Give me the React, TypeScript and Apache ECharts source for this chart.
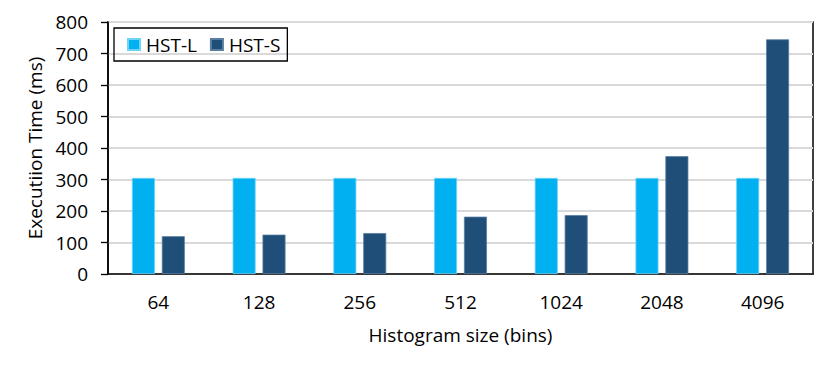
import React, { useEffect, useRef } from "react";
import * as echarts from "echarts";

const categories = ["64", "128", "256", "512", "1024", "2048", "4096"];
const hstL = [305, 305, 305, 305, 305, 305, 305];
const hstS = [120, 125, 130, 182, 187, 374, 745];
const seriesNames = ["HST-L", "HST-S"];

const FONT = "Open Sans";

export default function App() {
  const ref = useRef<HTMLDivElement>(null);
  useEffect(() => {
    if (!ref.current) return;
    const chart = echarts.init(ref.current, undefined, { renderer: "svg" });
    chart.setOption({
      animation: false,
      backgroundColor: "#ffffff",
      textStyle: { fontFamily: FONT },
      grid: {
        left: 100,
        top: 14,
        right: 25,
        bottom: 104,
        show: true,
        borderColor: "#000000",
        borderWidth: 1.5,
        containLabel: false,
      },
      legend: {
        left: 106,
        top: 20,
        padding: [7, 7, 7, 13],
        borderColor: "#000000",
        borderWidth: 1.3,
        itemWidth: 12,
        itemHeight: 11,
        itemGap: 13,
        icon: "rect",
        textStyle: { fontFamily: FONT, fontSize: 19, color: "#000000", padding: [0, 0, 0, 1] },
        data: seriesNames,
      },
      xAxis: {
        type: "category",
        data: categories,
        axisLine: { lineStyle: { color: "#000000", width: 1.5 } },
        axisTick: { show: false },
        axisLabel: { fontFamily: FONT, fontSize: 19, color: "#000000", margin: 18 },
        name: "Histogram size (bins)",
        nameLocation: "middle",
        nameGap: 51,
        nameTextStyle: { fontFamily: FONT, fontSize: 19, color: "#000000" },
      },
      yAxis: {
        type: "value",
        min: 0,
        max: 800,
        interval: 100,
        axisLine: { show: true, lineStyle: { color: "#000000", width: 1.5 } },
        axisTick: { show: true, length: 7, lineStyle: { color: "#000000", width: 1.3 } },
        splitLine: { lineStyle: { color: "#d9d9d9", width: 2 } },
        axisLabel: { fontFamily: FONT, fontSize: 19, color: "#000000", margin: 20 },
        name: "Executiion Time (ms)",
        nameLocation: "middle",
        nameGap: 63,
        nameTextStyle: { fontFamily: FONT, fontSize: 19, color: "#000000" },
      },
      series: [
        {
          name: seriesNames[0],
          type: "bar",
          data: hstL,
          barWidth: 23,
          barGap: "30%",
          itemStyle: { color: "#00b0f0", borderColor: "#6fd3f7", borderWidth: 0.8 },
        },
        {
          name: seriesNames[1],
          type: "bar",
          data: hstS,
          barWidth: 23,
          itemStyle: { color: "#1f4e79", borderColor: "#5a7ea0", borderWidth: 0.8 },
        },
      ],
    });
    return () => chart.dispose();
  }, []);
  return <div ref={ref} style={{ width: 830, height: 370 }} />;
}
